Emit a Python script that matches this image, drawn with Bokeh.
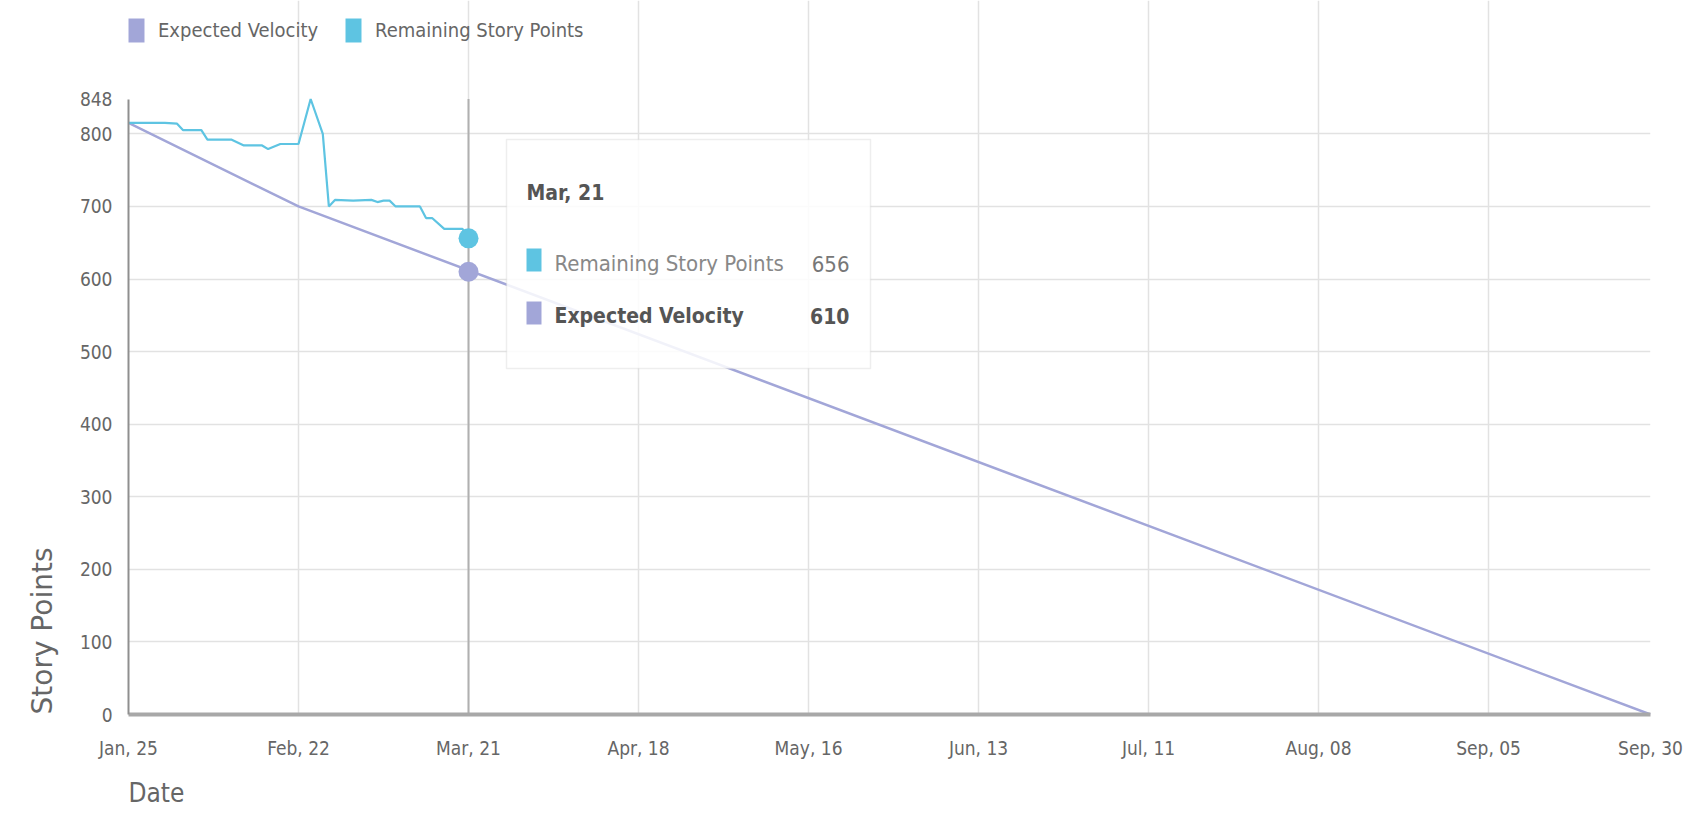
import pandas as pd
from bokeh.plotting import figure
from bokeh.models import (FixedTicker, Range1d, BoxAnnotation, Label, Legend, LegendItem,
                          Title, ColumnDataSource)
from bokeh.embed import file_html
from bokeh.resources import INLINE

# ---------------- data ----------------
remaining_dates = ["2016-01-25", "2016-01-28", "2016-01-31", "2016-02-02", "2016-02-03",
                   "2016-02-06", "2016-02-07", "2016-02-11", "2016-02-13", "2016-02-16",
                   "2016-02-17", "2016-02-19", "2016-02-22", "2016-02-24", "2016-02-26",
                   "2016-02-27", "2016-02-28", "2016-03-02", "2016-03-05", "2016-03-06",
                   "2016-03-07", "2016-03-08", "2016-03-09", "2016-03-13", "2016-03-14",
                   "2016-03-15", "2016-03-17", "2016-03-20", "2016-03-21"]
remaining_points = [815, 815, 815, 814, 805,
                    805, 792, 792, 784, 784,
                    779, 786, 786, 848, 800,
                    700, 709, 708, 709, 706,
                    708, 708, 700, 700, 684,
                    684, 669, 669, 656]

expected_dates = ["2016-01-25 00:00", "2016-02-22 00:00", "2016-10-01 16:00"]
expected_points = [815, 700, 0]

tick_dates = ["2016-01-25 00:00", "2016-02-22 00:00", "2016-03-21 00:00", "2016-04-18 00:00",
              "2016-05-16 00:00", "2016-06-13 00:00", "2016-07-11 00:00", "2016-08-08 00:00",
              "2016-09-05 00:00", "2016-10-01 16:00"]
tick_labels = ["Jan, 25", "Feb, 22", "Mar, 21", "Apr, 18", "May, 16",
               "Jun, 13", "Jul, 11", "Aug, 08", "Sep, 05", "Sep, 30"]
y_ticks = [0, 100, 200, 300, 400, 500, 600, 700, 800, 848]
grid_ticks = [100, 200, 300, 400, 500, 600, 700, 800]

hover_date = "2016-03-21"
hover_label = "Mar, 21"
hover_remaining = 656
hover_expected = 610

series_names = ["Expected Velocity", "Remaining Story Points"]
x_title = "Date"
y_title = "Story Points"


def to_ms(dates):
    return [float(v) for v in (pd.to_datetime(dates, format="mixed").astype("int64") // 10**6)]


# ---------------- layout / styling ----------------
W, H = 1700, 825
FRAME_LEFT, FRAME_RIGHT, FRAME_BOTTOM = 128, 1650, 714
PLOT_TOP = 98.5          # pixel row where the top tick value sits
C_EXP = "#a2a6d8"
C_REM = "#5ec4e2"
COND = "DejaVu Sans Condensed, Roboto, sans-serif"

rem_x = to_ms(remaining_dates)
exp_x = to_ms(expected_dates)
tick_x = to_ms(tick_dates)
hover_x = to_ms([hover_date])[0]

# the frame reaches the canvas top, so the legend can live inside it
y_view_top = y_ticks[-1] * FRAME_BOTTOM / (FRAME_BOTTOM - PLOT_TOP)

p = figure(width=W, height=H, output_backend="svg", toolbar_location=None,
           x_range=Range1d(tick_x[0], tick_x[-1]), y_range=Range1d(0, y_view_top),
           min_border_left=FRAME_LEFT, min_border_right=W - FRAME_RIGHT,
           min_border_top=0, min_border_bottom=H - FRAME_BOTTOM)
p.outline_line_color = None
p.background_fill_color = "white"

# axes
p.xaxis.ticker = FixedTicker(ticks=tick_x)
p.xaxis.major_label_overrides = {t: l for t, l in zip(tick_x, tick_labels)}
p.xaxis.axis_line_color = "#a8a8a8"
p.xaxis.axis_line_width = 4
p.xaxis.major_tick_line_color = None
p.xaxis.minor_tick_line_color = None
p.xaxis.major_label_text_font = COND
p.xaxis.major_label_text_font_size = "19px"
p.xaxis.major_label_text_color = "#666666"
p.xaxis.major_label_standoff = 16

p.yaxis.ticker = FixedTicker(ticks=y_ticks)
p.yaxis.bounds = (y_ticks[0], y_ticks[-1])
p.yaxis.axis_line_color = "#8f8f8f"
p.yaxis.axis_line_width = 2
p.yaxis.major_tick_line_color = None
p.yaxis.minor_tick_line_color = None
p.yaxis.major_label_text_font = COND
p.yaxis.major_label_text_font_size = "19px"
p.yaxis.major_label_text_color = "#666666"
p.yaxis.major_label_standoff = 10

p.xgrid.grid_line_color = "#e2e2e2"
p.xgrid.grid_line_width = 1.5
p.xgrid.bounds = (y_ticks[0], y_ticks[-1])
p.ygrid.ticker = FixedTicker(ticks=grid_ticks)
p.ygrid.grid_line_color = "#e2e2e2"
p.ygrid.grid_line_width = 1.5

# axis titles, both anchored at the plot's bottom-left corner
p.add_layout(Title(text=x_title, align="left", vertical_align="bottom", text_font=COND,
                   text_font_size="26px", text_font_style="normal",
                   text_color="#666666", standoff=28), "below")
p.add_layout(Title(text=y_title, align="left", vertical_align="top",
                   text_font="DejaVu Sans", text_font_size="28px",
                   text_font_style="normal", text_color="#666666", standoff=32), "left")

# crosshair at the hovered date
p.segment(x0=[hover_x], y0=[y_ticks[0]], x1=[hover_x], y1=[y_ticks[-1]],
          line_color="#b0b0b0", line_width=2)

# series
p.line(exp_x, expected_points, line_color=C_EXP, line_width=2.5)
p.line(rem_x, remaining_points, line_color=C_REM, line_width=2.2)
p.scatter([hover_x, hover_x], [hover_remaining, hover_expected], size=20,
          color=[C_REM, C_EXP], line_color=None)

# legend swatches: hidden bar renderers over the series data (only their legend glyph shows)
sw_exp = p.vbar(x="x", top="y", width=1,
                source=ColumnDataSource(dict(x=exp_x, y=expected_points)),
                fill_color=C_EXP, line_color=None, visible=False)
sw_rem = p.vbar(x="x", top="y", width=1,
                source=ColumnDataSource(dict(x=rem_x, y=remaining_points)),
                fill_color=C_REM, line_color=None, visible=False)
legend = Legend(items=[LegendItem(label=series_names[0], renderers=[sw_exp]),
                       LegendItem(label=series_names[1], renderers=[sw_rem])],
                orientation="horizontal", location=(-2, FRAME_BOTTOM - 45),
                border_line_color=None, background_fill_alpha=0,
                glyph_width=20, glyph_height=30, label_standoff=12, spacing=25,
                padding=0, margin=0, label_text_font=COND, label_text_font_size="20px",
                label_text_color="#666666")
p.add_layout(legend, "center")

# static tooltip
p.add_layout(BoxAnnotation(left=378, right=742, bottom=346, top=575,
                           left_units="screen", right_units="screen",
                           bottom_units="screen", top_units="screen",
                           fill_color="white", fill_alpha=0.85,
                           line_color="#c8c8c8", line_width=1.5))
p.add_layout(Label(x=398, y=522, x_units="screen", y_units="screen", text=hover_label,
                   text_font=COND, text_font_size="21px", text_font_style="bold",
                   text_color="#555555", text_baseline="alphabetic"))
p.add_layout(BoxAnnotation(left=398, right=413, bottom=443, top=466,
                           left_units="screen", right_units="screen",
                           bottom_units="screen", top_units="screen",
                           fill_color=C_REM, fill_alpha=1, line_color=None))
p.add_layout(Label(x=426, y=451, x_units="screen", y_units="screen", text=series_names[1],
                   text_font=COND, text_font_size="22px", text_color="#888888",
                   text_baseline="alphabetic"))
p.add_layout(Label(x=721, y=451, x_units="screen", y_units="screen",
                   text=str(hover_remaining), text_align="right",
                   text_font=COND, text_font_size="22px", text_color="#777777",
                   text_baseline="alphabetic"))
p.add_layout(BoxAnnotation(left=398, right=413, bottom=390, top=413,
                           left_units="screen", right_units="screen",
                           bottom_units="screen", top_units="screen",
                           fill_color=C_EXP, fill_alpha=1, line_color=None))
p.add_layout(Label(x=426, y=399, x_units="screen", y_units="screen", text=series_names[0],
                   text_font=COND, text_font_size="21px", text_font_style="bold",
                   text_color="#555555", text_baseline="alphabetic"))
p.add_layout(Label(x=721, y=399, x_units="screen", y_units="screen",
                   text=str(hover_expected), text_align="right",
                   text_font=COND, text_font_size="21px", text_font_style="bold",
                   text_color="#555555", text_baseline="alphabetic"))

open("out.html", "w").write(file_html(p, INLINE))
